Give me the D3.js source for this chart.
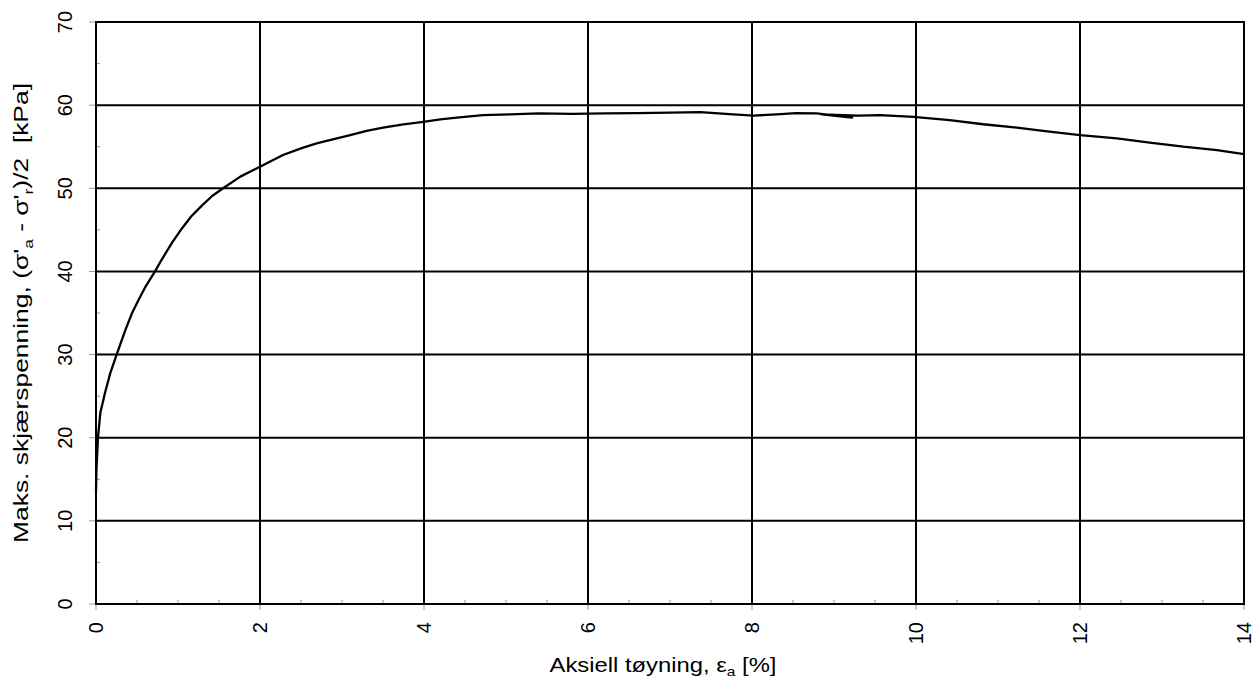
<!DOCTYPE html>
<html><head><meta charset="utf-8">
<script src="https://cdn.jsdelivr.net/npm/d3@7"></script>
<style>body{margin:0;background:#fff}svg{display:block}text{font-family:"Liberation Sans",Arial,sans-serif;fill:#000}</style>
</head><body><svg id="c" width="1254" height="679"></svg>
<script>
const strain = [0,0.005,0.012,0.024,0.053,0.11,0.175,0.256,0.36,0.44,0.52,0.60,0.72,0.80,0.93,1.05,1.16,1.30,1.42,1.55,1.76,2.0,2.28,2.5,2.69,2.9,3.10,3.30,3.50,3.75,3.99,4.2,4.40,4.72,5.05,5.4,5.8,6.2,6.6,7.0,7.37,7.77,8.02,8.3,8.54,8.79,9.22,8.85,9.3,9.56,9.97,10.41,10.82,11.23,11.55,12.0,12.45,12.85,13.26,13.67,14.0];
const stress = [13.5,16,17.5,20,23,25.4,27.8,30.1,33,35,36.6,38.1,40,41.4,43.5,45.2,46.6,48.0,49.1,50,51.4,52.6,54.0,54.8,55.4,55.9,56.4,56.9,57.3,57.7,58.0,58.3,58.5,58.8,58.9,59.0,58.95,59.0,59.05,59.1,59.15,58.9,58.75,58.9,59.05,59.0,58.5,58.9,58.75,58.8,58.6,58.2,57.7,57.3,56.9,56.4,56.0,55.5,55.0,54.6,54.1];
const xMajor = [0,2,4,6,8,10,12,14];
const yMajor = [0,10,20,30,40,50,60,70];
const xMinorStep = 0.5, yMinorStep = 5;

const svg = d3.select("#c");
const L=96,R=1244,T=22,B=604;
const x = d3.scaleLinear().domain([0,14]).range([L,R]);
const y = d3.scaleLinear().domain([0,70]).range([B,T]);

// minor ticks (inside)
const xMin = d3.range(0,14+1e-9,xMinorStep).filter(v=>!xMajor.includes(v));
const yMin = d3.range(0,70+1e-9,yMinorStep).filter(v=>!yMajor.includes(v));
svg.append("g").selectAll("line").data(xMin).join("line")
  .attr("x1",d=>x(d)).attr("x2",d=>x(d)).attr("y1",B).attr("y2",B-4)
  .attr("stroke","#999").attr("stroke-width",1);
svg.append("g").selectAll("line").data(yMin).join("line")
  .attr("y1",d=>y(d)).attr("y2",d=>y(d)).attr("x1",L).attr("x2",L+4)
  .attr("stroke","#999").attr("stroke-width",1);
// major ticks (outside)
svg.append("g").selectAll("line").data(xMajor).join("line")
  .attr("x1",d=>x(d)).attr("x2",d=>x(d)).attr("y1",B).attr("y2",B+6)
  .attr("stroke","#999").attr("stroke-width",1);
svg.append("g").selectAll("line").data(yMajor).join("line")
  .attr("y1",d=>y(d)).attr("y2",d=>y(d)).attr("x1",L-7).attr("x2",L)
  .attr("stroke","#999").attr("stroke-width",1);

// grid
svg.append("g").selectAll("line").data(xMajor.slice(1,-1)).join("line")
  .attr("x1",d=>x(d)).attr("x2",d=>x(d)).attr("y1",T).attr("y2",B)
  .attr("stroke","#000").attr("stroke-width",2);
svg.append("g").selectAll("line").data(yMajor.slice(1,-1)).join("line")
  .attr("y1",d=>y(d)).attr("y2",d=>y(d)).attr("x1",L).attr("x2",R)
  .attr("stroke","#000").attr("stroke-width",2);
// frame
svg.append("rect").attr("x",L).attr("y",T).attr("width",R-L).attr("height",B-T)
  .attr("fill","none").attr("stroke","#000").attr("stroke-width",2);

// curve
const pts = strain.map((s,i)=>[s,stress[i]]);
svg.append("path").datum(pts)
  .attr("d",d3.line().x(d=>x(d[0])).y(d=>y(d[1])))
  .attr("fill","none").attr("stroke","#000").attr("stroke-width",2.3).attr("stroke-linejoin","round");

// tick labels
svg.append("g").selectAll("text").data(xMajor).join("text")
  .attr("transform",d=>`translate(${x(d)+7},622) rotate(-90)`)
  .attr("text-anchor","end").attr("font-size",20).text(d=>d);
svg.append("g").selectAll("text").data(yMajor).join("text")
  .attr("transform",d=>`translate(72,${y(d)}) rotate(-90)`)
  .attr("text-anchor","middle").attr("font-size",20).text(d=>d);

// x title
const xt = svg.append("text").attr("transform",`translate(663,672)`)
  .attr("text-anchor","middle").attr("font-size",20)
  .attr("textLength",227).attr("lengthAdjust","spacingAndGlyphs");
xt.append("tspan").text("Aksiell tøyning, ε");
xt.append("tspan").attr("font-size",13).attr("dy",4).text("a");
xt.append("tspan").attr("dy",-4).text(" [%]");

// y title
const yt = svg.append("text").attr("transform",`translate(28,313) rotate(-90)`)
  .attr("text-anchor","middle").attr("font-size",20)
  .attr("textLength",460).attr("lengthAdjust","spacingAndGlyphs");
yt.append("tspan").text("Maks. skjærspenning, (σ'");
yt.append("tspan").attr("font-size",13).attr("dy",5).text("a");
yt.append("tspan").attr("dy",-5).text(" - σ'");
yt.append("tspan").attr("font-size",13).attr("dy",5).text("r");
yt.append("tspan").attr("dy",-5).text(")/2\u00a0 [kPa]");
</script></body></html>
